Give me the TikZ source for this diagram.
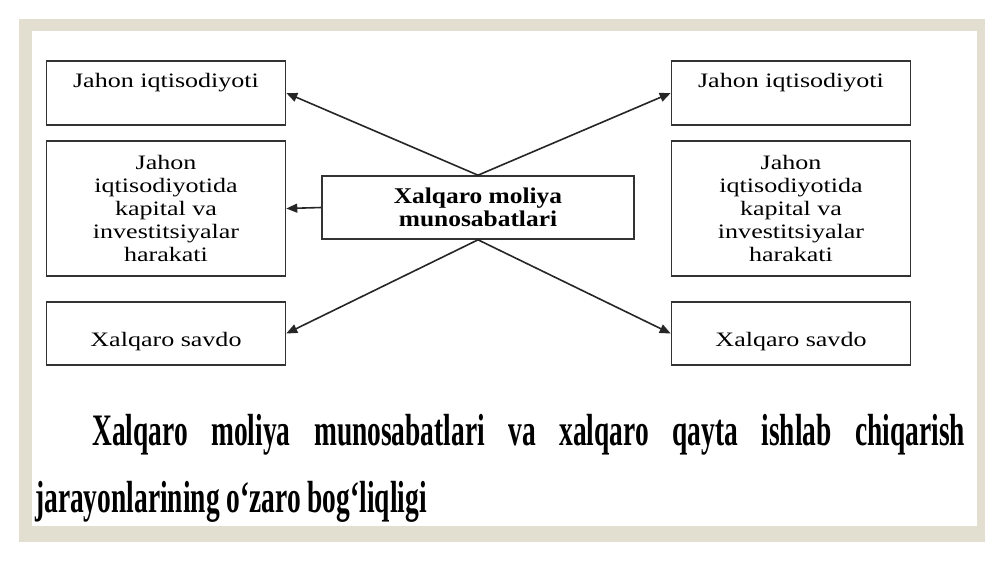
\documentclass[tikz,border=0pt]{standalone}
\usepackage{fontspec}
\setmainfont{Liberation Serif}
\newfontfamily\boxfont[FakeStretch=1.27]{Liberation Serif}
\newfontfamily\midfont[FakeStretch=1.13]{Liberation Serif}
\newfontfamily\capfont[FakeStretch=0.61]{Liberation Serif}
\usetikzlibrary{arrows.meta}
\definecolor{framebg}{RGB}{226,223,209}
\tikzset{
	blok/.style={draw=black!80,line width=1.6pt,minimum width=239pt,inner xsep=0pt,align=center,
		font=\boxfont\fontsize{20.5}{23}\selectfont},
	strel/.style={line width=1.6pt,color=black!85,-{Triangle[length=11pt,width=9pt]}},
	podpis/.style={anchor=base west,inner sep=0pt,font=\capfont\bfseries\fontsize{45}{67}\selectfont}
}
\begin{document}
\begin{tikzpicture}[x=1pt,y=-1pt]
	\useasboundingbox (0,0) rectangle (1000,562);
	\fill [color=framebg] (19,19) rectangle (985,542);
	\fill [color=white] (32,31) rectangle (977,526);
	\foreach \x/\s in {166/l, 791/r}{
		\node [blok,inner ysep=0pt,text height=26pt,text depth=38pt] at (\x,93) (\s1) {Jahon iqtisodiyoti};
		\node [blok,minimum height=135pt] at (\x,208.5) (\s2) {Jahon\\iqtisodiyotida\\kapital va\\investitsiyalar\\harakati};
		\node [blok,inner ysep=0pt,text height=44pt,text depth=19pt] at (\x,333.5) (\s3) {Xalqaro savdo};
	}
	\node [blok,minimum width=312pt,minimum height=63pt,font=\midfont\bfseries\fontsize{22.5}{23}\selectfont] at (478,207.5) (mol) {Xalqaro moliya\\munosabatlari};
	\path [strel] (mol.north) edge (l1.east) edge (r1.west);
	\path [strel] (mol.west) edge (l2.east);
	\path [strel] (mol.south) edge (l3.east) edge (r3.west);
	\node [podpis] at (92,445) (cap1) {\makebox[873pt][s]{Xalqaro moliya munosabatlari va xalqaro qayta ishlab chiqarish}};
	\node [podpis] at (35,512) (cap2) {jarayonlarining o‘zaro bog‘liqligi};
\end{tikzpicture}
\end{document}
